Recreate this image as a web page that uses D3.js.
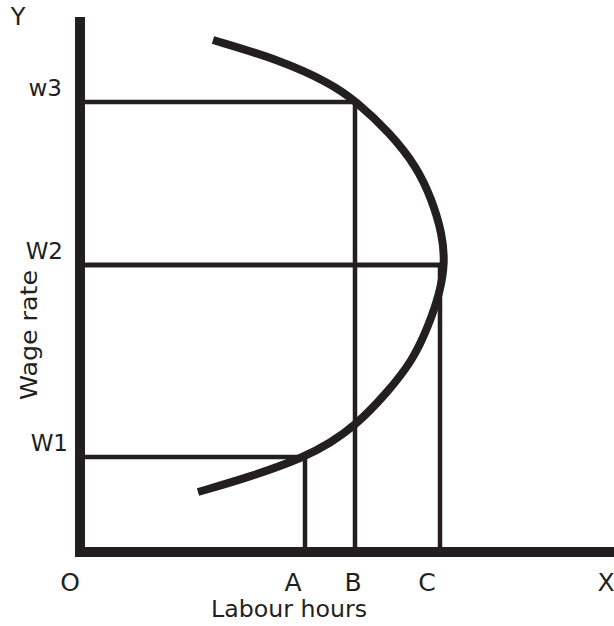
<!DOCTYPE html>
<html>
<head>
<meta charset="utf-8">
<script src="https://cdn.jsdelivr.net/npm/d3@7"></script>
<style>
  html, body { margin: 0; padding: 0; background: #fff; }
  svg { display: block; }
  text { font-family: "DejaVu Sans", "Liberation Sans", sans-serif; fill: #231f20; }
</style>
</head>
<body>
<svg id="chart" width="614" height="626"></svg>
<script>
// ---- data (in chart units: labour hours along x, wage rate along y) ----
const curveHours = [133, 200, 250, 276, 310, 337, 352, 362, 365, 360, 348, 333, 307, 275, 250, 225, 170, 118];
const curveWages = [512, 492, 469, 451, 419, 385, 352, 319, 290, 259, 225, 192, 159, 126, 109, 95, 75, 60];

const wageLevels = ["W1", "W2", "w3"];
const wageValues = [95, 287, 450];
const wageStroke = [4.5, 5, 4.5];

const hourLabels = ["A", "B", "C"];
const hourValues = [225, 275, 360];
const hourWage = [95, 450, 287];   // height each vertical guide rises to

const xAxisTitle = "Labour hours";
const yAxisTitle = "Wage rate";

// ---- scales ----
const ink = "#231f20";
const x = d3.scaleLinear().domain([0, 534]).range([80, 614]);
const y = d3.scaleLinear().domain([0, 535]).range([552, 17]);

const svg = d3.select("#chart");

// guide lines (horizontal)
svg.selectAll("line.h").data(wageValues).join("line")
  .attr("class", "h")
  .attr("x1", x(0)).attr("x2", (d, i) => x(hourValues[[0, 2, 1][i]]))
  .attr("y1", d => y(d)).attr("y2", d => y(d))
  .attr("stroke", ink).attr("stroke-width", (d, i) => wageStroke[i]);

// guide lines (vertical)
svg.selectAll("line.v").data(hourValues).join("line")
  .attr("class", "v")
  .attr("x1", d => x(d)).attr("x2", d => x(d))
  .attr("y1", y(0)).attr("y2", (d, i) => y(hourWage[i]) - 2)
  .attr("stroke", ink).attr("stroke-width", 4.5);

// supply curve
const pts = curveHours.map((h, i) => [h, curveWages[i]]);
svg.append("path")
  .datum(pts)
  .attr("d", d3.line().x(d => x(d[0])).y(d => y(d[1])).curve(d3.curveBasis))
  .attr("fill", "none").attr("stroke", ink).attr("stroke-width", 8);

// axes
svg.append("line")
  .attr("x1", x(0)).attr("x2", x(0))
  .attr("y1", y(535)).attr("y2", y(0) + 5)
  .attr("stroke", ink).attr("stroke-width", 10);
svg.append("line")
  .attr("x1", x(0) - 5).attr("x2", x(534))
  .attr("y1", y(0)).attr("y2", y(0))
  .attr("stroke", ink).attr("stroke-width", 10);

// axis-end labels
svg.append("text").attr("x", 18).attr("y", 25).attr("text-anchor", "middle")
  .attr("font-size", 24).text("Y");
svg.append("text").attr("x", 70).attr("y", 591).attr("text-anchor", "middle")
  .attr("font-size", 25).text("O");
svg.append("text").attr("x", 606).attr("y", 591).attr("text-anchor", "middle")
  .attr("font-size", 25).text("X");

// wage level labels
svg.selectAll("text.w").data(wageValues).join("text")
  .attr("class", "w")
  .attr("x", (d, i) => [68, 63, 62][i]).attr("y", d => y(d) - 6)
  .attr("text-anchor", "end").attr("font-size", 23)
  .text((d, i) => wageLevels[i]);

// hour labels
svg.selectAll("text.q").data(hourValues).join("text")
  .attr("class", "q")
  .attr("x", (d, i) => x(d) - [12, 2, 13][i]).attr("y", 591)
  .attr("text-anchor", "middle").attr("font-size", 25)
  .text((d, i) => hourLabels[i]);

// axis titles
svg.append("text").attr("x", 289).attr("y", 617).attr("text-anchor", "middle")
  .attr("font-size", 23).attr("textLength", 156).attr("lengthAdjust", "spacingAndGlyphs")
  .text(xAxisTitle);
svg.append("text")
  .attr("transform", "translate(37,335) rotate(-90)")
  .attr("text-anchor", "middle").attr("font-size", 23)
  .attr("textLength", 130).attr("lengthAdjust", "spacingAndGlyphs")
  .text(yAxisTitle);
</script>
</body>
</html>
